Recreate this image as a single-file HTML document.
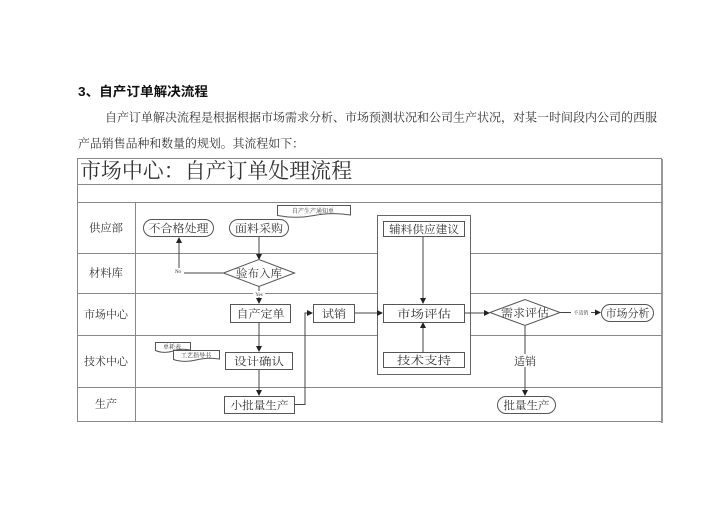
<!DOCTYPE html>
<html><head><meta charset="utf-8"><style>
html,body{margin:0;padding:0;background:#fff;}
svg{display:block;}
.s{font-family:"Liberation Serif","Noto Serif CJK SC",serif;fill:#333;}
.b{font-family:"Liberation Sans","Noto Sans CJK SC",sans-serif;font-weight:bold;fill:#111;}
.ln{stroke:#444;stroke-width:1;fill:none;}
.bx{stroke:#555;stroke-width:1;fill:#fff;}
.tb{stroke:#888;stroke-width:1;fill:none;}
</style></head><body>
<svg width="720" height="509" viewBox="0 0 720 509" xmlns="http://www.w3.org/2000/svg">
<defs>
<marker id="a" markerWidth="6" markerHeight="6" refX="5" refY="3" orient="auto" markerUnits="userSpaceOnUse">
<path d="M0,0 L6,3 L0,6 z" fill="#222"/>
</marker>
</defs>
<rect x="0" y="0" width="720" height="509" fill="#fff"/>
<!-- text -->
<text class="b" x="78" y="96" font-size="13" textLength="130" lengthAdjust="spacingAndGlyphs">3、自产订单解决流程</text>
<text class="s" x="105" y="121.5" font-size="12" fill="#222" textLength="552" lengthAdjust="spacingAndGlyphs">自产订单解决流程是根据根据市场需求分析、市场预测状况和公司生产状况，对某一时间段内公司的西服</text>
<text class="s" x="78" y="147.5" font-size="12" fill="#222" textLength="226" lengthAdjust="spacingAndGlyphs">产品销售品种和数量的规划。其流程如下：</text>

<!-- table -->
<rect class="tb" x="77.5" y="158.5" width="584" height="263"/>
<line x1="662" y1="159" x2="662" y2="423" stroke="#999" stroke-width="2"/>
<line class="tb" x1="77" y1="184.5" x2="662" y2="184.5"/>
<line class="tb" x1="77" y1="202.5" x2="662" y2="202.5"/>
<line class="tb" x1="77" y1="253.5" x2="662" y2="253.5"/>
<line class="tb" x1="77" y1="293.5" x2="662" y2="293.5"/>
<line class="tb" x1="77" y1="335.5" x2="662" y2="335.5"/>
<line class="tb" x1="77" y1="387.5" x2="662" y2="387.5"/>
<line class="tb" x1="135.5" y1="202" x2="135.5" y2="422"/>

<text class="s" x="80" y="178" font-size="21" textLength="272" lengthAdjust="spacingAndGlyphs" fill="#444">市场中心：自产订单处理流程</text>

<!-- lane labels -->
<g class="s" font-size="11" text-anchor="middle" fill="#444">
<text x="106" y="231.5" textLength="34" lengthAdjust="spacingAndGlyphs">供应部</text>
<text x="106" y="276.5" textLength="34" lengthAdjust="spacingAndGlyphs">材料库</text>
<text x="106" y="318" textLength="44" lengthAdjust="spacingAndGlyphs">市场中心</text>
<text x="106" y="365" textLength="44" lengthAdjust="spacingAndGlyphs">技术中心</text>
<text x="106" y="407.5" textLength="22" lengthAdjust="spacingAndGlyphs">生产</text>
</g>

<!-- container -->
<rect x="377.5" y="215.5" width="93" height="159" fill="#fff" stroke="#666" stroke-width="1"/>

<!-- connectors -->
<line class="ln" x1="259" y1="236" x2="259" y2="259" marker-end="url(#a)"/>
<polyline class="ln" points="224,273 179,273 179,238" marker-end="url(#a)"/>
<line class="ln" x1="259" y1="286" x2="259" y2="303" marker-end="url(#a)"/>
<line class="ln" x1="259" y1="322" x2="259" y2="351" marker-end="url(#a)"/>
<line class="ln" x1="259" y1="369" x2="259" y2="395" marker-end="url(#a)"/>
<polyline class="ln" points="294,404.5 305,404.5 305,313 312,313" marker-end="url(#a)"/>
<line class="ln" x1="354" y1="313" x2="382" y2="313" marker-end="url(#a)"/>
<line class="ln" x1="423" y1="236" x2="423" y2="303" marker-end="url(#a)"/>
<line class="ln" x1="423" y1="352" x2="423" y2="323" marker-end="url(#a)"/>
<line class="ln" x1="464" y1="313" x2="489" y2="313" marker-end="url(#a)"/>
<line class="ln" x1="560" y1="312.5" x2="600" y2="312.5" marker-end="url(#a)"/>
<line class="ln" x1="525" y1="326" x2="525" y2="395" marker-end="url(#a)"/>

<!-- nodes -->
<rect class="bx" x="143.5" y="219.5" width="70" height="17" rx="8.5"/>
<text class="s" x="178.5" y="232" font-size="11" text-anchor="middle" textLength="60" lengthAdjust="spacingAndGlyphs">不合格处理</text>
<rect class="bx" x="229.5" y="219.5" width="59" height="17" rx="8.5"/>
<text class="s" x="259" y="232" font-size="11" text-anchor="middle" textLength="48" lengthAdjust="spacingAndGlyphs">面料采购</text>

<path class="bx" d="M277.5,205.5 H350.5 V215 Q332,212 314,215.5 Q296,219 277.5,215.5 Z"/>
<text class="s" x="313" y="213" font-size="6" text-anchor="middle">自产生产通知单</text>

<polygon class="bx" points="223.5,273 259,259.5 294.5,273 259,286.5"/>
<text class="s" x="259" y="277" font-size="11" text-anchor="middle" textLength="46" lengthAdjust="spacingAndGlyphs">验布入库</text>

<rect x="172" y="268" width="12" height="6" fill="#fff"/>
<text class="s" x="178" y="273" font-size="5" text-anchor="middle">No</text>
<rect x="253" y="291" width="12" height="6" fill="#fff"/>
<text class="s" x="259" y="296" font-size="5" text-anchor="middle">Yes</text>

<rect class="bx" x="230.5" y="304.5" width="60" height="18"/>
<text class="s" x="260.5" y="317.5" font-size="11" text-anchor="middle" textLength="48" lengthAdjust="spacingAndGlyphs">自产定单</text>
<rect class="bx" x="313.5" y="304.5" width="41" height="18"/>
<text class="s" x="334" y="317.5" font-size="11" text-anchor="middle" textLength="24" lengthAdjust="spacingAndGlyphs">试销</text>

<path class="bx" d="M155.5,342.5 H190.5 V350 Q181,348 173,351 Q164,354 155.5,350.5 Z"/>
<text class="s" x="172" y="349" font-size="6" text-anchor="middle">单耗表</text>
<path class="bx" d="M173.5,350.5 H219.5 V359 Q207,357 196,360 Q184,363 173.5,359.5 Z"/>
<text class="s" x="196" y="357.5" font-size="6" text-anchor="middle">工艺指导书</text>

<rect class="bx" x="225.5" y="352.5" width="67" height="17"/>
<text class="s" x="259" y="365" font-size="11" text-anchor="middle" textLength="50" lengthAdjust="spacingAndGlyphs">设计确认</text>
<rect class="bx" x="224.5" y="396.5" width="70" height="17"/>
<text class="s" x="259.5" y="409" font-size="11" text-anchor="middle" textLength="58" lengthAdjust="spacingAndGlyphs">小批量生产</text>

<rect class="bx" x="383.5" y="221.5" width="81" height="15"/>
<text class="s" x="424" y="233" font-size="11" text-anchor="middle" textLength="70" lengthAdjust="spacingAndGlyphs">辅料供应建议</text>
<rect class="bx" x="383.5" y="304.5" width="81" height="18"/>
<text class="s" x="424" y="317.5" font-size="11" text-anchor="middle" textLength="54" lengthAdjust="spacingAndGlyphs">市场评估</text>
<rect class="bx" x="383.5" y="352.5" width="81" height="15"/>
<text class="s" x="424" y="364" font-size="11" text-anchor="middle" textLength="54" lengthAdjust="spacingAndGlyphs">技术支持</text>

<polygon class="bx" points="490,312.5 525,299.5 560,312.5 525,325.5"/>
<text class="s" x="525" y="316.5" font-size="11" text-anchor="middle" textLength="48" lengthAdjust="spacingAndGlyphs">需求评估</text>

<rect x="571" y="309" width="20" height="7" fill="#fff"/>
<text class="s" x="581" y="314.5" font-size="5" text-anchor="middle">不适销</text>

<rect class="bx" x="601.5" y="304.5" width="52" height="17" rx="8.5"/>
<text class="s" x="627.5" y="317" font-size="11" text-anchor="middle" textLength="44" lengthAdjust="spacingAndGlyphs">市场分析</text>

<rect x="513" y="354" width="24" height="13" fill="#fff"/>
<text class="s" x="525" y="365" font-size="11" text-anchor="middle">适销</text>

<rect class="bx" x="497.5" y="396.5" width="58" height="17" rx="8.5"/>
<text class="s" x="526.5" y="409" font-size="11" text-anchor="middle" textLength="46" lengthAdjust="spacingAndGlyphs">批量生产</text>
</svg>
</body></html>
